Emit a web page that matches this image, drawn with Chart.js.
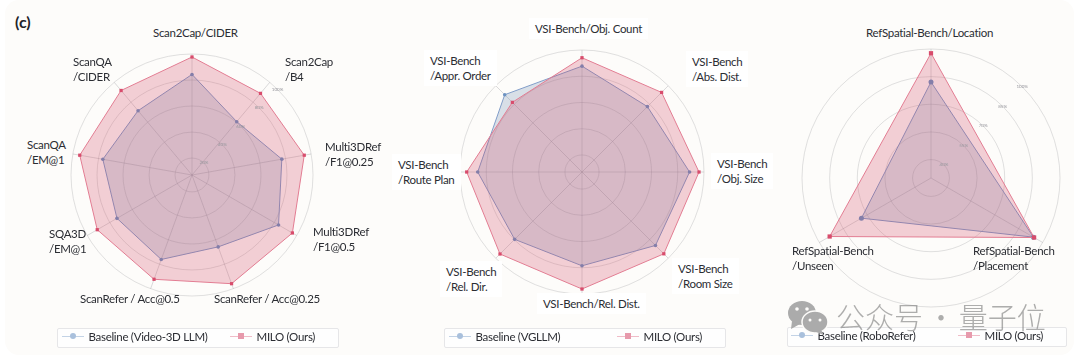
<!DOCTYPE html>
<html>
<head>
<meta charset="utf-8">
<script src="https://cdn.jsdelivr.net/npm/chart.js@4"></script>
<style>
  html, body { margin: 0; padding: 0; background: #fff; }
  #page { position: relative; width: 1080px; height: 359px; overflow: hidden; background: #fff; font-family: Lato, sans-serif; color: #2b2d33; filter: blur(0.35px); }
  #panel { position: absolute; left: 5px; top: 0; width: 1069px; height: 355px; background: #fdfcfa; border-radius: 14px; }
  canvas { position: absolute; }
  .lab { position: absolute; font-size: 11.5px; letter-spacing: -0.3px; line-height: 15px; white-space: pre; z-index: 2; }
  .boxed { background: #fff; padding: 3px 6px; margin: -3px 0 0 -6px; }
  .legend { position: absolute; height: 18px; border: 1px solid #e6e6e8; border-radius: 2px; background: #fefefe; }
  .ltxt { position: absolute; font-size: 11.5px; letter-spacing: -0.3px; line-height: 18px; white-space: pre; z-index: 4; }
  .lline { position: absolute; height: 1px; z-index: 4; }
  .lmark { position: absolute; width: 6px; height: 6px; z-index: 4; }
  #tag { position: absolute; left: 15px; top: 13px; font-size: 16px; font-weight: bold; line-height: 18px; color: #1f2328; }
  #wm { position: absolute; left: 836px; top: 296px; font-family: "Noto Sans CJK SC"; font-weight: 300; font-size: 29px; line-height: 40px; color: rgba(120,120,120,0.6); white-space: pre; z-index: 5; }
  #wm span { margin: 0 -3px; }
  #wmicon { position: absolute; left: 785px; top: 298px; z-index: 5; }
</style>
</head>
<body>
<div id="page">
  <div id="panel"></div>
  <div id="tag">(c)</div>
  <svg id="wmicon" width="50" height="40">
    <ellipse cx="17" cy="15" rx="14" ry="12" fill="#ababab"/>
    <path d="M7 23 L6 31 L15 26 Z" fill="#ababab"/>
    <circle cx="12" cy="11" r="1.8" fill="#fdfcfa"/>
    <circle cx="22" cy="11" r="1.8" fill="#fdfcfa"/>
    <ellipse cx="30" cy="24" rx="13" ry="11" fill="#ababab" stroke="#fdfcfa" stroke-width="1.5"/>
    <path d="M36 32 L39 37 L31 34 Z" fill="#ababab"/>
    <circle cx="25" cy="22" r="1.5" fill="#fdfcfa"/>
    <circle cx="35" cy="22" r="1.5" fill="#fdfcfa"/>
  </svg>
  <div id="wm">公众号<span> · </span>量子位</div>
</div>
<script>
// 左のチャート
var labels1 = ['Scan2Cap/CIDER', 'Scan2Cap\n/B4', 'Multi3DRef\n/F1@0.25', 'Multi3DRef\n/F1@0.5', 'ScanRefer / Acc@0.25', 'ScanRefer / Acc@0.5', 'SQA3D\n/EM@1', 'ScanQA\n/EM@1', 'ScanQA\n/CIDER'];
var baseline1 = [84.3, 60.5, 77.1, 83.8, 65.8, 76.1, 73.6, 76.6, 71.5];
var milo1 = [97.7, 88.9, 94.6, 96.1, 95.9, 92.3, 91.1, 94.6, 91.8];
var ticks1 = [20, 40, 60, 80, 100];
var baseName1 = 'Baseline (Video-3D LLM)';

// 真ん中のチャート
var labels2 = ['VSI-Bench/Obj. Count', 'VSI-Bench\n/Abs. Dist.', 'VSI-Bench\n/Obj. Size', 'VSI-Bench\n/Room Size', 'VSI-Bench/Rel. Dist.', 'VSI-Bench\n/Rel. Dir.', 'VSI-Bench\n/Route Plan', 'VSI-Bench\n/Appr. Order'];
var baseline2 = [87.7, 77.5, 89, 86.2, 78.5, 79.6, 86.5, 90.3];
var milo2 = [94.1, 92.8, 96.2, 95.2, 96.2, 95.4, 94.9, 82.1];
var ticks2 = [20, 40, 60, 80, 100];
var baseName2 = 'Baseline (VGLLM)';

// 右のチャート
var labels3 = ['RefSpatial-Bench/Location', 'RefSpatial-Bench\n/Placement', 'RefSpatial-Bench\n/Unseen'];
var baseline3 = [82.1, 94.2, 73.6];
var milo3 = [97.7, 94.6, 93.5];
var ticks3 = [40, 55, 70, 85, 100];
var baseName3 = 'Baseline (RoboRefer)';

var miloName = 'MILO (Ours)';

var page = document.getElementById('page');

// 目盛りラベルを45度方向に描く
var diagonalTicks = {
  id: 'diagonalTicks',
  afterDatasetsDraw: function (chart, args, opts) {
    if (!opts.show) return;
    var s = chart.scales.r, c = chart.ctx;
    c.save();
    c.font = '4.5px Lato';
    c.fillStyle = '#96969c';
    c.textAlign = 'center';
    c.textBaseline = 'middle';
    opts.values.forEach(function (v) {
      var d = s.getDistanceFromCenterForValue(v) * Math.SQRT1_2;
      c.fillText(v + '%', s.xCenter + d, s.yCenter - d);
    });
    c.restore();
  }
};

var drawRadar = function (cfg) {
  var cv = document.createElement('canvas');
  var size = cfg.r * 2 + 4;
  cv.width = size;
  cv.height = size;
  cv.style.left = (cfg.cx - size / 2) + 'px';
  cv.style.top = (cfg.cy - size / 2) + 'px';
  cv.style.width = size + 'px';
  cv.style.height = size + 'px';
  page.appendChild(cv);
  var ctx = cv.getContext('2d');

  // orderが小さい方が手前に描かれる
  var line1 = {
    label: cfg.baseName, data: cfg.base,
    order: 2,
    fill: true,
    backgroundColor: 'rgba(100,135,170,0.24)',
    borderColor: 'rgba(128,156,200,1)',
    borderWidth: 1,
    pointStyle: 'circle',
    pointRadius: cfg.dot,
    pointBackgroundColor: 'rgb(108,146,194)',
    pointBorderWidth: 0
  };
  var line2 = {
    label: miloName, data: cfg.milo,
    order: 1,
    fill: true,
    backgroundColor: 'rgba(208,62,90,0.24)',
    borderColor: 'rgba(226,124,146,1)',
    borderWidth: 1,
    pointStyle: 'rect',
    pointRadius: cfg.dot + 0.5,
    pointBackgroundColor: 'rgb(216,76,108)',
    pointBorderWidth: 0
  };

  new Chart(ctx, {
    type: 'radar',
    data: { labels: cfg.labels, datasets: [line1, line2] },
    options: {
      responsive: false,
      animation: false,
      layout: { padding: 2 },
      plugins: {
        legend: { display: false },
        tooltip: { enabled: false },
        diagonalTicks: { show: cfg.showTicks, values: cfg.ticks }
      },
      scales: {
        r: {
          min: cfg.min,
          max: 100,
          afterBuildTicks: function (scale) {
            scale.ticks = [cfg.min].concat(cfg.ticks).map(function (v) { return { value: v }; });
          },
          ticks: { display: false },
          pointLabels: { display: false },
          grid: { color: 'rgba(170,170,172,0.35)', lineWidth: 1, circular: true },
          angleLines: { color: 'rgba(160,160,165,0.38)', lineWidth: 1 }
        }
      }
    },
    plugins: [diagonalTicks]
  });

  // 軸ラベル
  cfg.labels.forEach(function (t, i) {
    var d = document.createElement('div');
    d.className = 'lab' + (cfg.boxed ? ' boxed' : '');
    d.textContent = t;
    d.style.left = cfg.labelX[i] + 'px';
    d.style.top = cfg.labelY[i] + 'px';
    page.appendChild(d);
  });

  // 凡例
  var box = document.createElement('div');
  box.className = 'legend';
  box.style.left = cfg.legend[0] + 'px';
  box.style.top = cfg.legendY + 'px';
  box.style.width = cfg.legend[1] + 'px';
  page.appendChild(box);
  addLegendItem(cfg.legend[2], cfg.baseName, '#c3d3e6', '#a9c0dc', '50%', cfg.legendY);
  addLegendItem(cfg.legend[3], miloName, '#f0bcc8', '#e79aac', '0', cfg.legendY);
};

var addLegendItem = function (x, text, lineColor, markColor, round, y) {
  var l = document.createElement('div');
  l.className = 'lline';
  l.style.left = x + 'px';
  l.style.width = '22px';
  l.style.top = (y + 8) + 'px';
  l.style.background = lineColor;
  page.appendChild(l);
  var m = document.createElement('div');
  m.className = 'lmark';
  m.style.left = (x + 8) + 'px';
  m.style.top = (y + 5) + 'px';
  m.style.background = markColor;
  m.style.borderRadius = round;
  page.appendChild(m);
  var t = document.createElement('div');
  t.className = 'ltxt';
  t.textContent = text;
  t.style.left = (x + 26.5) + 'px';
  t.style.top = y + 'px';
  page.appendChild(t);
};

window.onload = function () {
  drawRadar({
    cx: 192, cy: 175, r: 121, min: 7, dot: 1.8, showTicks: true,
    labels: labels1, base: baseline1, milo: milo1, ticks: ticks1, baseName: baseName1,
    labelX: [153, 285, 325, 313, 214, 80, 49, 27, 73],
    labelY: [25, 54, 139, 224, 291, 291, 226, 137, 54],
    legend: [57, 280, 62, 230], legendY: 328
  });
  drawRadar({
    cx: 582, cy: 172, r: 122, min: 7, dot: 1.8, showTicks: false, boxed: true,
    labels: labels2, base: baseline2, milo: milo2, ticks: ticks2, baseName: baseName2,
    labelX: [535, 692, 717, 678, 543, 446, 398, 430],
    labelY: [21, 54, 156, 261, 296, 264, 157, 53],
    legend: [444, 280, 449, 617], legendY: 328
  });
  drawRadar({
    cx: 931, cy: 178, r: 129, min: 30, dot: 2.5, showTicks: true,
    labels: labels3, base: baseline3, milo: milo3, ticks: ticks3, baseName: baseName3,
    labelX: [866, 973, 792],
    labelY: [25, 243, 243],
    legend: [787, 278, 791, 958], legendY: 327
  });
};
</script>
</body>
</html>
